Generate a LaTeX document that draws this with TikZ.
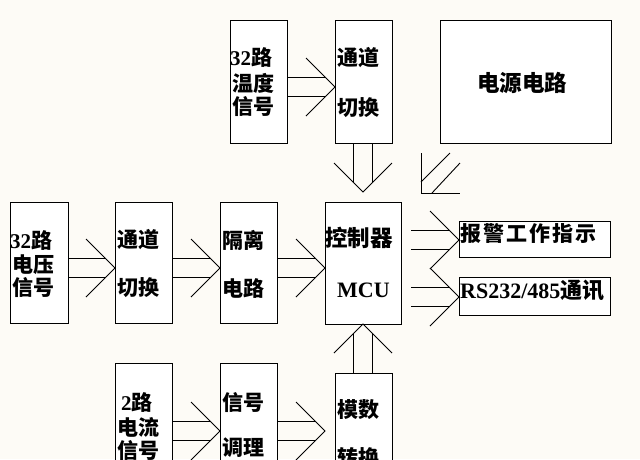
\documentclass[tikz,border=0pt]{standalone}
\usepackage{fontspec}
\setmainfont{Liberation Serif}
\newfontfamily\cjk{Noto Sans CJK SC}
\usetikzlibrary{calc}
\definecolor{bgc}{RGB}{253,251,246}
\newcommand\zh[1]{{\cjk\bfseries #1}}
\newcommand\dar[4]{%
  \path (#1) coordinate (s) (#2) coordinate (t);
  \draw[conn] ($(s)+(#4*9.5,#3*9.5)$) -- ($(t)-(#3*9.5,#4*9.5)+(#4*9.5,#3*9.5)$);
  \draw[conn] ($(s)-(#4*9.5,#3*9.5)$) -- ($(t)-(#3*9.5,#4*9.5)-(#4*9.5,#3*9.5)$);
  \draw[conn] ($(t)-(#3*29,#4*29)+(#4*29,#3*29)$) -- (t) -- ($(t)-(#3*29,#4*29)-(#4*29,#3*29)$);
}
\newcommand\gp{\hspace{2pt}}
\begin{document}
\begin{tikzpicture}[x=1pt,y=-1pt,
  box/.style={draw, fill=white, line width=1pt, inner sep=0pt, outer sep=0pt, anchor=north west},
  conn/.style={line width=0.9pt},
  txt/.style={anchor=west, inner sep=0pt, font=\fontsize{21}{21}\selectfont\bfseries},
  fs/.style={font=\fontsize{#1}{#1}\selectfont\bfseries}]
\fill[bgc] (0,0) rectangle (640,459);
\useasboundingbox (0,0) rectangle (640,459);
% boxes
\node[box, minimum width=57pt, minimum height=123pt] (temp) at (230,20) {};
\node[box, minimum width=57pt, minimum height=123pt] (sw1) at (335,20) {};
\node[box, minimum width=171pt, minimum height=123pt] (power) at (440,20) {};
\node[box, minimum width=58pt, minimum height=121pt] (volt) at (10,202) {};
\node[box, minimum width=57pt, minimum height=121pt] (sw2) at (115,202) {};
\node[box, minimum width=57pt, minimum height=121pt] (iso) at (220,202) {};
\node[box, minimum width=76pt, minimum height=122pt] (mcu) at (325,202) {};
\node[box, minimum width=151pt, minimum height=36pt] (alarm) at (459,221) {};
\node[box, minimum width=151pt, minimum height=38pt] (rs) at (459,277) {};
\node[box, minimum width=57pt, minimum height=110pt] (cur) at (115,363) {};
\node[box, minimum width=57pt, minimum height=110pt] (cond) at (220,363) {};
\node[box, minimum width=57pt, minimum height=100pt] (adc) at (335,373) {};
% texts
\node[txt] (t1a) at (230,57) {32\zh{路}};
\node[txt] (t1b) at (232,83) {\zh{温度}};
\node[txt] (t1c) at (232,107) {\zh{信号}};
\node[txt] (t2a) at (337,58) {\zh{通道}};
\node[txt] (t2b) at (337,108) {\zh{切换}};
\node[txt, fs=22.5, anchor=center] (t3) at (522,83) {\zh{电源电路}};
\node[txt] (t4a) at (10,240) {32\zh{路}};
\node[txt] (t4b) at (12,265) {\zh{电压}};
\node[txt] (t4c) at (12,288) {\zh{信号}};
\node[txt] (t5a) at (117,240) {\zh{通道}};
\node[txt] (t5b) at (117,288) {\zh{切换}};
\node[txt] (t6a) at (222,240) {\zh{隔离}};
\node[txt] (t6b) at (222,288) {\zh{电路}};
\node[txt, fs=22.5] (t7a) at (325,238) {\zh{控制器}};
\node[txt, fs=22] (t7b) at (337,290) {MCU};
\node[txt, fs=21] (t8) at (460,234) {\zh{报\gp 警\gp 工\gp 作\gp 指\gp 示}};
\node[txt, fs=22] (t9) at (460,291) {RS232/485\zh{通讯}};
\node[txt] (t10a) at (121,402) {2\zh{路}};
\node[txt] (t10b) at (117,427) {\zh{电流}};
\node[txt] (t10c) at (117,450) {\zh{信号}};
\node[txt] (t11a) at (222,402) {\zh{信号}};
\node[txt] (t11b) at (222,448) {\zh{调理}};
\node[txt] (t12a) at (337,410) {\zh{模数}};
\node[txt] (t12b) at (337,458) {\zh{转换}};
% connectors
\dar{temp.east |- 0,87}{sw1.west |- 0,87}{1}{0}
\dar{sw1.south -| 363,0}{$(mcu.north -| 363,0)+(0,-10)$}{0}{1}
\dar{volt.east |- 0,268}{sw2.west |- 0,268}{1}{0}
\dar{sw2.east |- 0,268}{iso.west |- 0,268}{1}{0}
\dar{iso.east |- 0,268}{mcu.west |- 0,268}{1}{0}
\dar{$(mcu.east |- 0,240)+(10,0)$}{alarm.west |- 0,240}{1}{0}
\dar{$(mcu.east |- 0,297)+(10,0)$}{rs.west |- 0,297}{1}{0}
\dar{adc.north -| 363,0}{mcu.south -| 363,0}{0}{-1}
\dar{cur.east |- 0,431}{cond.west |- 0,431}{1}{0}
\dar{cond.east |- 0,431}{$(adc.west |- 0,431)+(-10,0)$}{1}{0}
% power supply arrow (corner head)
\coordinate (pc) at ($(power.south west)+(-19,50)$);
\draw[conn] ($(pc)+(0,-40)$) -- (pc) -- ++(39,0);
\draw[conn] ($(pc)+(0,-11)$) -- ++(29,-29);
\draw[conn] ($(pc)+(11,0)$) -- ++(28,-30);
\end{tikzpicture}
\end{document}
